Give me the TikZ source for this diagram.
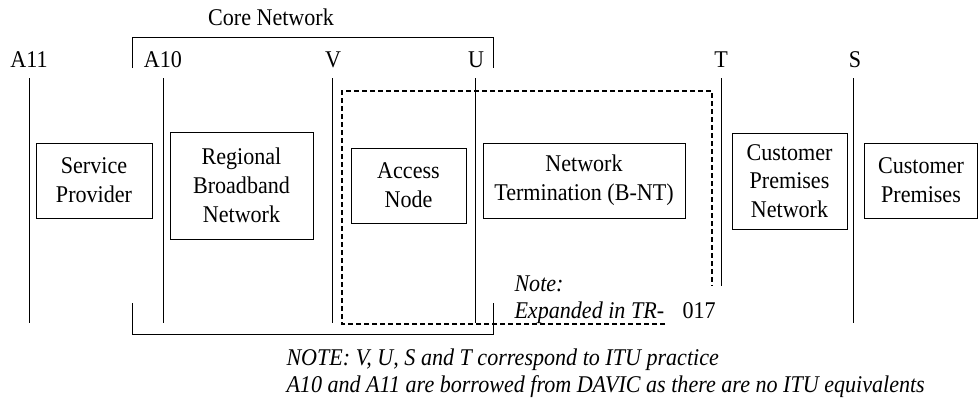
\documentclass[tikz,border=0pt]{standalone}
\usepackage{fontspec}
\setmainfont{Liberation Serif}[FakeStretch=0.92]
\begin{document}
\begin{tikzpicture}[x=1pt,y=-1pt,
  line width=1pt,
  lbl/.style={font=\fontsize{24}{28.8}\selectfont, anchor=base, inner sep=0pt},
  blk/.style={draw, line width=1pt, align=center, inner sep=0pt,
    font=\fontsize{24}{28.8}\selectfont},
  refline/.style={line width=1pt},
  dashline/.style={line width=1.3pt, dash pattern=on 5pt off 3pt},
  notetxt/.style={font=\fontsize{24}{28.8}\selectfont\itshape, anchor=base west, inner sep=0pt}]
\useasboundingbox (0,0) rectangle (979,400);

% interface labels
\node[lbl] (lA11) at (29,67) {A11};
\node[lbl] (lA10) at (163,67) {A10};
\node[lbl] (lV) at (333,67) {V};
\node[lbl] (lU) at (476,67) {U};
\node[lbl] (lT) at (721,67) {T};
\node[lbl] (lS) at (855,67) {S};

% interface reference lines
\draw[refline] (29,78) -- (29,323);
\draw[refline] (163,78) -- (163,323);
\draw[refline] (332,78) -- (332,323);
\draw[refline] (475,78) -- (475,323);
\draw[refline] (721,78) -- (721,286);
\draw[refline] (853,78) -- (853,323);

% core network bracket
\node[lbl] (core) at (271,25) {Core Network};
\draw (132,68) -- (132,37) -- (493,37) -- (493,68);
\draw (132,303) -- (132,334) -- (493,334) -- (493,303);

% functional blocks
\node[blk, minimum width=116pt, minimum height=75pt] (sp) at (94,180.5) {Service\\Provider};
\node[blk, minimum width=143pt, minimum height=107pt] (rbn) at (241.5,185.5) {Regional\\Broadband\\Network};
\node[blk, minimum width=115pt, minimum height=75pt] (an) at (408.5,185.5) {Access\\Node};
\node[blk, minimum width=202pt, minimum height=75pt] (nt) at (584,180.5) {Network\\Termination (B-NT)};
\node[blk, minimum width=115pt, minimum height=96pt] (cpn) at (789.5,181) {Customer\\Premises\\Network};
\node[blk, minimum width=113pt, minimum height=75pt] (cp) at (921,180.5) {Customer\\Premises};

% expanded access region
\draw[dashline] (665,324) -- (342,324) -- (342,91) -- (712,91) -- (712,286);
\node[notetxt] (note1) at (514,291) {Note:};
\node[notetxt] (note2) at (514,318) {Expanded in TR-};
\node[font=\fontsize{24}{28.8}\selectfont, anchor=base west, inner sep=0pt] (num) at (682,318) {017};

% footnote
\node[notetxt] (foot1) at (286,365) {NOTE: V, U, S and T correspond to ITU practice};
\node[notetxt] (foot2) at (286,392) {A10 and A11 are borrowed from DAVIC as there are no ITU equivalents};
\end{tikzpicture}
\end{document}
